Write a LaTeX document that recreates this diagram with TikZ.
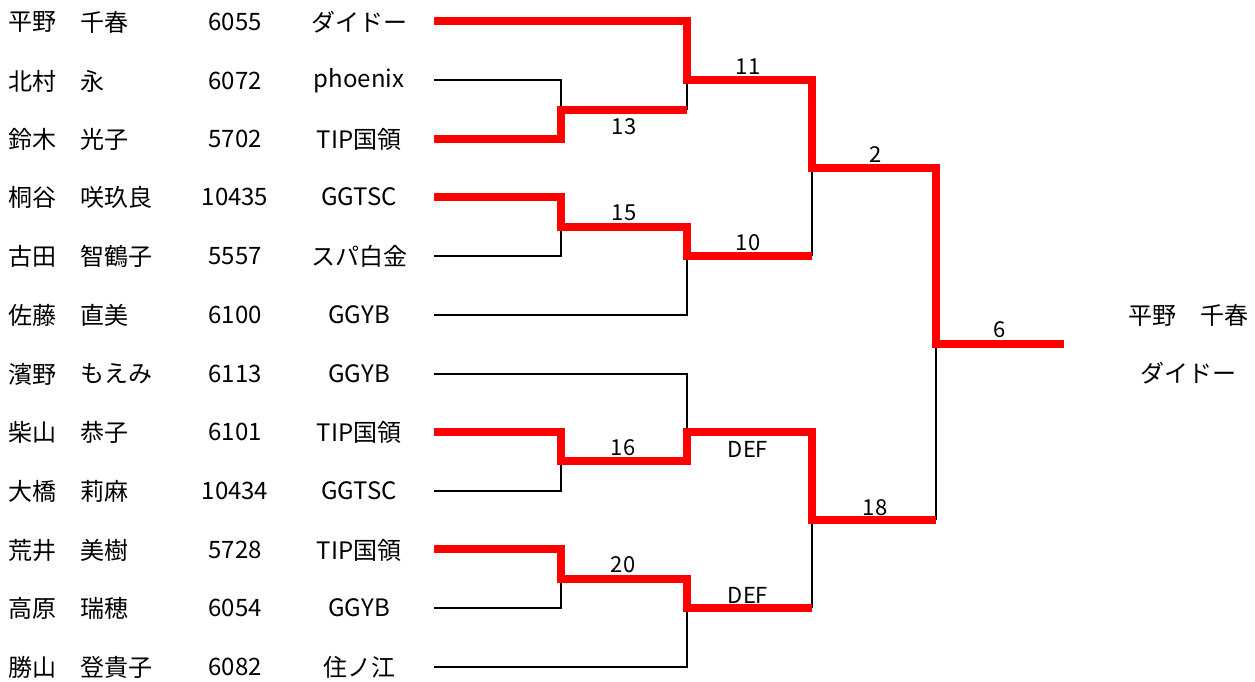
\documentclass[tikz,border=0pt]{standalone}
\usepackage{fontspec}
\setmainfont{Noto Sans CJK JP}
\usepackage{tikz}

\begin{document}
\begin{tikzpicture}[x=1pt,y=-1pt,
    win/.style={draw=red,line width=8.5pt,line join=miter},
    lose/.style={draw=black,line width=2.5pt},
    txt/.style={font=\fontsize{24}{28}\selectfont,inner sep=0pt},
    score/.style={font=\fontsize{22}{26}\selectfont,inner sep=0pt}]
  \useasboundingbox (0,0) rectangle (1255,681);

  % players
   \draw (8,22) node[txt,anchor=west] (hirano) {平野};
   \draw (80,22) node[txt,anchor=west] (chiharu) {千春};
   \draw (235,22) node[txt] (n6055) {6055};
   \draw (359,22) node[txt] (daido1) {ダイドー};

   \draw (8,81) node[txt,anchor=west] (kitamura) {北村};
   \draw (80,81) node[txt,anchor=west] (ei) {永};
   \draw (235,81) node[txt] (n6072) {6072};
   \draw (359,81) node[txt] (phoenix) {phoenix};

   \draw (8,139) node[txt,anchor=west] (suzuki) {鈴木};
   \draw (80,139) node[txt,anchor=west] (mitsuko) {光子};
   \draw (235,139) node[txt] (n5702) {5702};
   \draw (359,139) node[txt] (tip1) {TIP国領};

   \draw (8,197) node[txt,anchor=west] (kiritani) {桐谷};
   \draw (80,197) node[txt,anchor=west] (sakura) {咲玖良};
   \draw (235,197) node[txt] (n10435) {10435};
   \draw (359,197) node[txt] (ggtsc1) {GGTSC};

   \draw (8,256) node[txt,anchor=west] (furuta) {古田};
   \draw (80,256) node[txt,anchor=west] (chizuko) {智鶴子};
   \draw (235,256) node[txt] (n5557) {5557};
   \draw (359,256) node[txt] (supa) {スパ白金};

   \draw (8,315) node[txt,anchor=west] (sato) {佐藤};
   \draw (80,315) node[txt,anchor=west] (naomi) {直美};
   \draw (235,315) node[txt] (n6100) {6100};
   \draw (359,315) node[txt] (ggyb1) {GGYB};

   \draw (8,374) node[txt,anchor=west] (hamano) {濱野};
   \draw (80,374) node[txt,anchor=west] (moemi) {もえみ};
   \draw (235,374) node[txt] (n6113) {6113};
   \draw (359,374) node[txt] (ggyb2) {GGYB};

   \draw (8,432) node[txt,anchor=west] (shibayama) {柴山};
   \draw (80,432) node[txt,anchor=west] (kyoko) {恭子};
   \draw (235,432) node[txt] (n6101) {6101};
   \draw (359,432) node[txt] (tip2) {TIP国領};

   \draw (8,491) node[txt,anchor=west] (ohashi) {大橋};
   \draw (80,491) node[txt,anchor=west] (rima) {莉麻};
   \draw (235,491) node[txt] (n10434) {10434};
   \draw (359,491) node[txt] (ggtsc2) {GGTSC};

   \draw (8,550) node[txt,anchor=west] (arai) {荒井};
   \draw (80,550) node[txt,anchor=west] (miki) {美樹};
   \draw (235,550) node[txt] (n5728) {5728};
   \draw (359,550) node[txt] (tip3) {TIP国領};

   \draw (8,608) node[txt,anchor=west] (takahara) {高原};
   \draw (80,608) node[txt,anchor=west] (mizuho) {瑞穂};
   \draw (235,608) node[txt] (n6054) {6054};
   \draw (359,608) node[txt] (ggyb3) {GGYB};

   \draw (8,667) node[txt,anchor=west] (katsuyama) {勝山};
   \draw (80,667) node[txt,anchor=west] (kikiko) {登貴子};
   \draw (235,667) node[txt] (n6082) {6082};
   \draw (359,667) node[txt] (suminoe) {住ノ江};

  % champion
   \draw (1188,315) node[txt] (champ) {平野　千春};
   \draw (1188,373) node[txt] (champclub) {ダイドー};

  % bracket points
   \coordinate (r1) at (434,21);   \coordinate (r2) at (434,80);
   \coordinate (r3) at (434,139);  \coordinate (r4) at (434,197);
   \coordinate (r5) at (434,256);  \coordinate (r6) at (434,315);
   \coordinate (r7) at (434,374);  \coordinate (r8) at (434,432);
   \coordinate (r9) at (434,491);  \coordinate (r10) at (434,549);
   \coordinate (r11) at (434,608); \coordinate (r12) at (434,667);
   \coordinate (m13) at (561,110); \coordinate (m15) at (561,227);
   \coordinate (m16) at (561,461); \coordinate (m20) at (561,579);
   \coordinate (m11) at (687,80);  \coordinate (m10) at (687,256);
   \coordinate (md1) at (687,432); \coordinate (md2) at (687,608);
   \coordinate (m2) at (812,168);  \coordinate (m18) at (812,520);
   \coordinate (m6) at (936,344);  \coordinate (final) at (1064,344);

  % losers
   \path[lose] (r2) -| (m13);
   \path[lose] (m13 -| m11) -- (m11);
   \path[lose] (r5) -| (m15);
   \path[lose] (r6) -| (m10);
   \path[lose] (m10 -| m2) -- (m2);
   \path[lose] (r7) -| (md1);
   \path[lose] (r9) -| (m16);
   \path[lose] (r11) -| (m20);
   \path[lose] (r12) -| (md2);
   \path[lose] (md2 -| m18) -- (m18);
   \path[lose] (m18 -| m6) -- (m6);

  % winners
   \path[win] (r1) -| (m11) -| (m2) -| (m6) -- (final);
   \path[win] (r3) -| (m13) -- (m13 -| m11);
   \path[win] (r4) -| (m15) -| (m10) -- (m10 -| m2);
   \path[win] (r8) -| (m16) -| (md1) -| (m18) -- (m18 -| m6);
   \path[win] (r10) -| (m20) -| (md2) -- (md2 -| m18);

  % scores
   \draw (748,67) node[score] (s11) {11};
   \draw (624,127) node[score] (s13) {13};
   \draw (624,213) node[score] (s15) {15};
   \draw (748,243) node[score] (s10) {10};
   \draw (876,155) node[score] (s2) {2};
   \draw (1000,330) node[score] (s6) {6};
   \draw (623,448) node[score] (s16) {16};
   \draw (748,449) node[score] (def1) {DEF};
   \draw (623,565) node[score] (s20) {20};
   \draw (748,595) node[score] (def2) {DEF};
   \draw (875,508) node[score] (s18) {18};
\end{tikzpicture}
\end{document}
